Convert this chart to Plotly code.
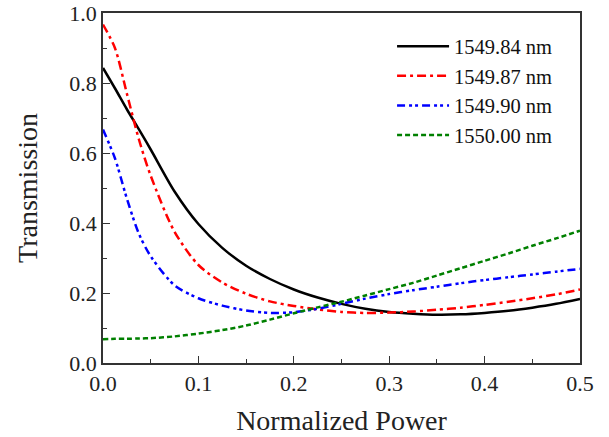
import plotly.graph_objects as go

power = [0.0, 0.0125, 0.025, 0.0375, 0.05, 0.075, 0.1, 0.125, 0.15, 0.175, 0.2, 0.225,
         0.25, 0.275, 0.3, 0.325, 0.35, 0.375, 0.4, 0.425, 0.45, 0.475, 0.5]

t_1549_84 = [0.843, 0.785, 0.725, 0.668, 0.61, 0.49, 0.397, 0.329, 0.278, 0.24, 0.21, 0.187,
             0.169, 0.155, 0.146, 0.141, 0.138, 0.139, 0.143, 0.149, 0.158, 0.169, 0.183]
t_1549_87 = [0.967, 0.90, 0.77, 0.64, 0.535, 0.375, 0.28, 0.23, 0.198, 0.176, 0.163, 0.153,
             0.146, 0.143, 0.144, 0.147, 0.152, 0.158, 0.166, 0.175, 0.185, 0.196, 0.21]
t_1549_90 = [0.667, 0.585, 0.47, 0.37, 0.305, 0.222, 0.185, 0.164, 0.15, 0.143, 0.145, 0.155,
             0.169, 0.184, 0.197, 0.208, 0.218, 0.228, 0.237, 0.245, 0.253, 0.261, 0.269]
t_1550_00 = [0.068, 0.069, 0.069, 0.070, 0.071, 0.076, 0.084, 0.094, 0.107, 0.124, 0.142, 0.159,
             0.175, 0.193, 0.211, 0.229, 0.25, 0.271, 0.292, 0.313, 0.335, 0.356, 0.378]

names = ["1549.84 nm", "1549.87 nm", "1549.90 nm", "1550.00 nm"]
series = [t_1549_84, t_1549_87, t_1549_90, t_1550_00]
colors = ["#000000", "#FF0000", "#0000FF", "#008000"]
dashes = ["solid", "9px,4px,3px,4px", "8px,4px,3px,3px,3px,4px", "5px,3px"]

x_ticks = [0.0, 0.1, 0.2, 0.3, 0.4, 0.5]
y_ticks = [0.0, 0.2, 0.4, 0.6, 0.8, 1.0]

fig = go.Figure()
for n, s, c, d in zip(names, series, colors, dashes):
    fig.add_trace(go.Scatter(x=power, y=s, name=n, mode="lines",
                             line=dict(color=c, width=2.5, dash=d, shape="spline", smoothing=0.8)))

font_family = "Liberation Serif, Times New Roman, serif"
fig.update_layout(
    width=609, height=437,
    margin=dict(l=103, r=29, t=13, b=74, autoexpand=False),
    paper_bgcolor="white", plot_bgcolor="white",
    font=dict(family=font_family, size=22, color="#222"),
    showlegend=True,
    legend=dict(x=0.606, y=0.962, xanchor="left", yanchor="top", itemwidth=52,
                font=dict(family=font_family, size=20.5, color="#111"),
                bgcolor="rgba(0,0,0,0)", tracegroupgap=0),
)
axis_common = dict(showline=True, linecolor="#333", linewidth=1.5, mirror=True,
                   showgrid=False, zeroline=False, ticks="inside", ticklen=7,
                   tickwidth=1.2, tickcolor="#333", automargin=False,
                   tickfont=dict(family=font_family, size=22, color="#222"))
fig.update_xaxes(range=[0, 0.5], tickvals=x_ticks, ticktext=[f"{v:.1f}" for v in x_ticks],
                 minor=dict(ticks="inside", ticklen=4, dtick=0.05, tickcolor="#333", tickwidth=1.2),
                 title=dict(text="Normalized Power", font=dict(family=font_family, size=28, color="#222"),
                            standoff=15),
                 **axis_common)
fig.update_yaxes(range=[0, 1.0], tickvals=y_ticks, ticktext=[f"{v:.1f}" for v in y_ticks],
                 minor=dict(ticks="inside", ticklen=4, dtick=0.1, tickcolor="#333", tickwidth=1.2),
                 title=dict(text="Transmission", font=dict(family=font_family, size=28, color="#222"),
                            standoff=24),
                 **axis_common)

fig.write_html("out.html", config={"displayModeBar": False},
               post_script="document.body.style.margin='0';document.body.style.overflow='hidden';")
